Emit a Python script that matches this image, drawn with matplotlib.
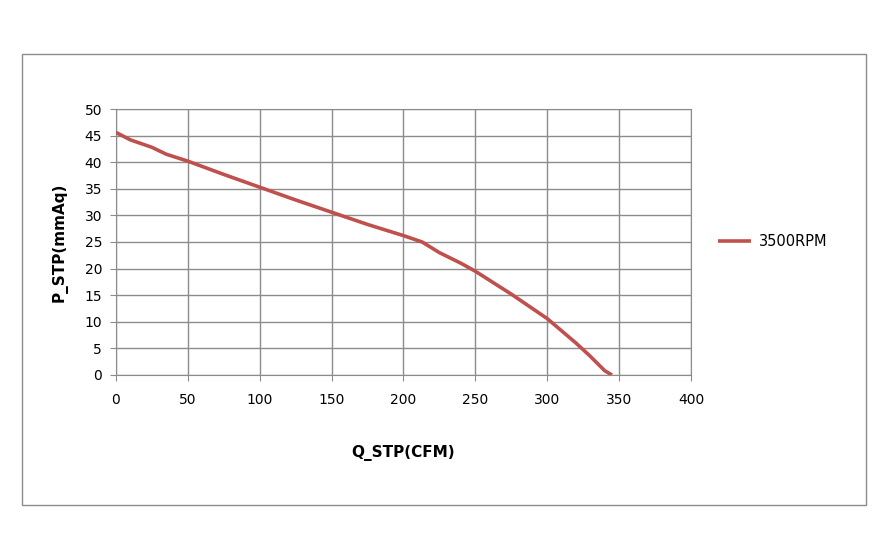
import matplotlib
matplotlib.use("Agg")
import matplotlib.pyplot as plt
from matplotlib.patches import Rectangle

# fan curve
q_cfm = [0, 10, 25, 35, 50, 75, 100, 125, 150, 175, 200, 213, 225, 240, 250,
         275, 300, 310, 320, 330, 340, 345]
p_mmaq = [45.6, 44.2, 42.8, 41.5, 40.2, 37.7, 35.3, 32.9, 30.6, 28.3, 26.2, 25.0,
          23.0, 21.0, 19.5, 15.2, 10.6, 8.3, 6.0, 3.5, 0.8, 0.0]
series_name = "3500RPM"
x_ticks = [0, 50, 100, 150, 200, 250, 300, 350, 400]
y_ticks = [0, 5, 10, 15, 20, 25, 30, 35, 40, 45, 50]

plt.rcParams["font.family"] = ["DejaVu Sans"]

fig = plt.figure(figsize=(8.9, 5.37), dpi=100)
fig.patches.append(Rectangle((0.0247, 0.0596), 0.9483, 0.8398, transform=fig.transFigure,
                             fill=False, edgecolor="#8c8c8c", linewidth=1.0))

ax = fig.add_axes([0.1303, 0.3017, 0.6461, 0.4953])
ax.plot(q_cfm, p_mmaq, color="#c0504d", linewidth=2.6, label=series_name,
        solid_capstyle="butt", zorder=3)

ax.set_xlim(0, 400)
ax.set_ylim(0, 50)
ax.set_xticks(x_ticks)
ax.set_yticks(y_ticks)
ax.grid(True, color="#8c8c8c", linewidth=1.0)
for s in ax.spines.values():
    s.set_color("#8c8c8c")
ax.tick_params(length=4, color="#8c8c8c", labelsize=10)
ax.tick_params(axis="x", pad=9)
ax.tick_params(axis="y", pad=6)

ax.set_xlabel("Q_STP(CFM)", fontsize=11, fontweight="bold", labelpad=27)
ax.set_ylabel("P_STP(mmAq)", fontsize=11, fontweight="bold", labelpad=12)

ax.legend(loc="center left", bbox_to_anchor=(1.025, 0.5), frameon=False,
          fontsize=10.5, handlelength=2.2, handletextpad=0.6)

fig.savefig("out.png", dpi=100)
